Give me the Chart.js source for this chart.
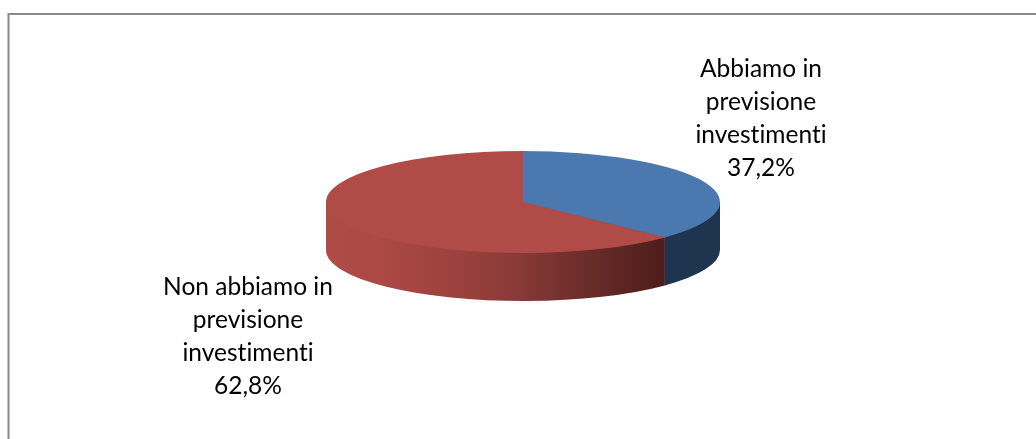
<!DOCTYPE html>
<html>
<head>
<meta charset="utf-8">
<style>html,body{margin:0;padding:0;background:#fff;overflow:hidden}canvas{display:block}</style>
<script src="https://cdn.jsdelivr.net/npm/chart.js@4"></script>
</head>
<body>
<div style="width:1036px;height:439px;position:relative"><canvas id="c" width="1036" height="439"></canvas></div>
<script>
const categories = ["Abbiamo in previsione investimenti", "Non abbiamo in previsione investimenti"];
const labelLines = [["Abbiamo in", "previsione", "investimenti", "37,2%"], ["Non abbiamo in", "previsione", "investimenti", "62,8%"]];
const values = [37.2, 62.8];
const topColors = ["#4a78af", "#b04b47"];

const squash = 51 / 197;
const depth = 48;
const labelAnchors = [{dx: 238, dy: -133}, {dx: -275, dy: 85}];
const lineHeight = 33;

const wallStops = [
  [[0, "#1f344f"], [1, "#1f344f"]],
  [[0, "#b04b47"], [0.15, "#ac4945"], [0.4, "#9b413d"], [0.58, "#863936"], [0.8, "#662a27"], [1, "#4e1e1a"]]
];

const pie3d = {
  id: "pie3d",
  beforeDraw(chart) {
    const c = chart.ctx;
    c.save();
    c.fillStyle = "#ffffff";
    c.fillRect(0, 0, chart.width, chart.height);
    c.strokeStyle = "#8a8a8a";
    c.lineWidth = 2;
    c.beginPath();
    c.moveTo(8.5, chart.height);
    c.lineTo(8.5, 14);
    c.lineTo(chart.width, 14);
    c.stroke();
    c.restore();
  },
  beforeDatasetsDraw(chart) {
    const c = chart.ctx;
    const arcs = chart.getDatasetMeta(0).data;
    arcs.forEach((arc, i) => {
      const {x, y, outerRadius: r, startAngle, endAngle} = arc.getProps(["x", "y", "outerRadius", "startAngle", "endAngle"], true);
      const a0 = Math.max(startAngle, 0);
      const a1 = Math.min(endAngle, Math.PI);
      if (a1 <= a0) return;
      const ry = r * squash;
      const g = c.createLinearGradient(x + r * Math.cos(a1), 0, x + r * Math.cos(a0), 0);
      wallStops[i].forEach(s => g.addColorStop(s[0], s[1]));
      c.save();
      c.fillStyle = g;
      c.beginPath();
      c.moveTo(x, y);
      c.lineTo(x + r * Math.cos(a0), y + ry * Math.sin(a0));
      c.ellipse(x, y + depth, r, ry, 0, a0, a1, false);
      c.lineTo(x + r * Math.cos(a1), y + ry * Math.sin(a1));
      c.closePath();
      c.fill();
      c.restore();
    });
    const first = arcs[0];
    c.save();
    c.translate(first.x, first.y);
    c.scale(1, squash);
    c.translate(-first.x, -first.y);
  },
  afterDatasetsDraw(chart) {
    const c = chart.ctx;
    c.restore();
    const arcs = chart.getDatasetMeta(0).data;
    c.save();
    c.font = '400 24.5px Lato, sans-serif';
    c.letterSpacing = '0.01px';
    c.fillStyle = "#000000";
    c.textAlign = "center";
    c.textBaseline = "middle";
    arcs.forEach((arc, i) => {
      const a = labelAnchors[i];
      labelLines[i].forEach((line, k) => {
        c.fillText(line, arc.x + a.dx, arc.y + a.dy + k * lineHeight);
      });
    });
    c.restore();
  }
};

new Chart(document.getElementById("c"), {
  type: "pie",
  data: {
    labels: categories,
    datasets: [{data: values, backgroundColor: topColors, borderWidth: 0, hoverOffset: 0}]
  },
  options: {
    responsive: false,
    animation: false,
    layout: {padding: {left: 326, right: 316, top: 5, bottom: 40}},
    plugins: {legend: {display: false}, tooltip: {enabled: false}}
  },
  plugins: [pie3d]
});
</script>
</body>
</html>
